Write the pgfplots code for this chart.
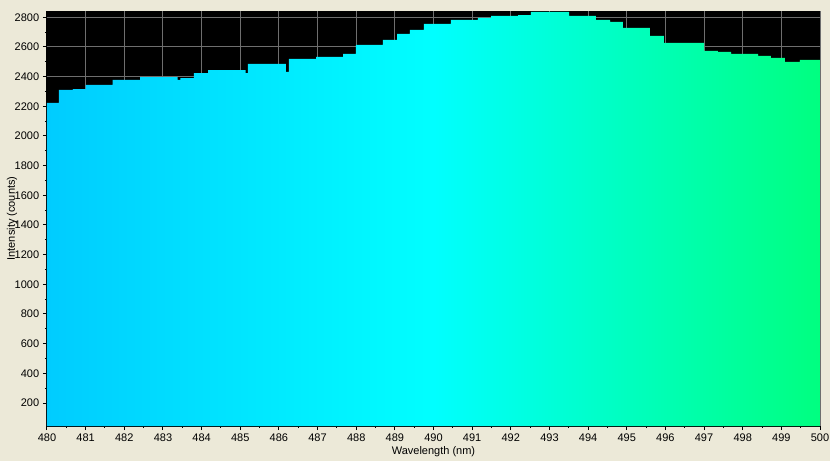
\documentclass[border=0pt]{standalone}
\usepackage{fontspec}
\setmainfont{Liberation Sans}
\usepackage{pgfplots}
\pgfplotsset{compat=1.18}
\definecolor{bgc}{RGB}{236,233,216}
\definecolor{sA}{RGB}{0,204,255}
\definecolor{sB}{RGB}{0,255,255}
\definecolor{sC}{RGB}{0,255,128}
\definecolor{gridc}{RGB}{110,110,110}
\pgfdeclarehorizontalshading{spectrum}{100bp}{color(0bp)=(sA); color(25bp)=(sA); color(50bp)=(sB); color(75bp)=(sC); color(100bp)=(sC)}
\pgfplotstableread{
x y
480.00 2222
480.31 2310
480.67 2316
481.00 2344
481.70 2377
482.41 2397
483.38 2377
483.45 2390
483.80 2424
484.17 2444
485.14 2424
485.20 2485
486.18 2431
486.26 2519
486.96 2532
487.66 2553
487.99 2613
488.69 2647
489.06 2687
489.39 2714
489.75 2755
490.45 2782
491.15 2795
491.49 2809
492.19 2815
492.52 2836
493.51 2809
494.20 2782
494.57 2768
494.90 2728
495.60 2674
495.96 2627
497.00 2573
497.36 2566
497.70 2553
498.40 2539
498.73 2526
499.09 2499
499.48 2512
500.00 2512
}\spec
\begin{document}
\fontsize{11}{13}\selectfont
\begin{tikzpicture}[x=1pt,y=1pt]
\fill[bgc] (0,0) rectangle (830,461);
\useasboundingbox (0,0) rectangle (830,461);
\begin{axis}[
  at={(47pt,35pt)}, anchor=south west,
  scale only axis, width=773pt, height=415pt,
  xmin=480, xmax=500, ymin=45, ymax=2842,
  axis background/.style={fill=black},
  axis x line*=bottom, axis y line*=left,
  axis line style={black, line width=1pt},
  xtick={480,481,...,500}, ytick={200,400,...,2800},
  minor x tick num=1, minor y tick num=1,
  tick align=outside, major tick length=4pt, minor tick length=2pt,
  every tick/.style={black, line width=1pt},
  grid=major, major grid style={gridc, line width=1pt},
  /pgf/number format/assume math mode=true,
  /pgf/number format/1000 sep={},
  ticklabel style={font=\fontsize{11}{13}\selectfont},
]
\addplot[const plot, draw=none, shade, shading=spectrum] table[x=x,y=y] {\spec} \closedcycle;
\end{axis}
\node[anchor=base] at (433.5,7) {Wavelength (nm)};
\node[rotate=90] at (12,242.5) {Intensity (counts)};
\end{tikzpicture}
\end{document}
